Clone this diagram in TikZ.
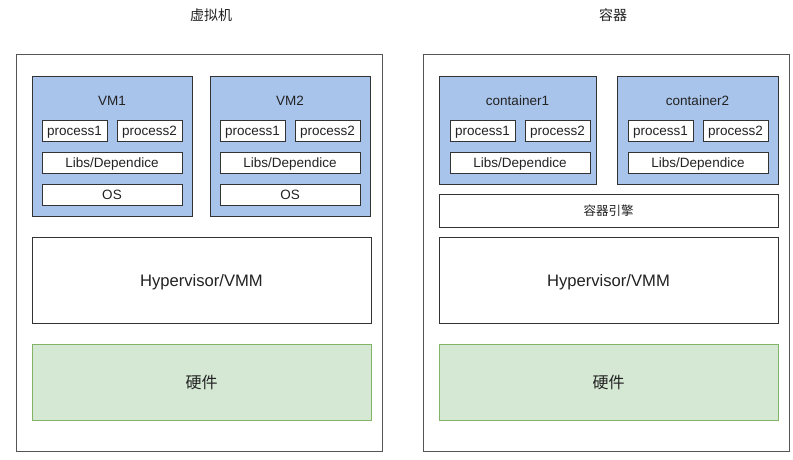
\documentclass[tikz,border=0pt]{standalone}
\usepackage{fontspec}
\setmainfont{Liberation Sans}
\newfontfamily\cjk{Noto Sans CJK SC}
\definecolor{vmblue}{HTML}{A9C4EB}
\definecolor{hwgreen}{HTML}{D5E8D4}
\definecolor{hwline}{HTML}{82B366}
\definecolor{outerline}{HTML}{555555}
\definecolor{boxline}{HTML}{333333}
\definecolor{txt}{HTML}{222222}
\begin{document}
\begin{tikzpicture}[x=1pt,y=-1pt,
  every node/.style={inner sep=0pt, outer sep=0pt, text=txt, text depth=0pt},
  outerbox/.style={draw=outerline, line width=1pt, fill=white, anchor=north west},
  bluebox/.style={draw=boxline, fill=vmblue, line width=1pt, anchor=north west},
  wbox/.style={draw=boxline, fill=white, line width=0.8pt, anchor=north west, font=\fontsize{13.5}{16}\selectfont},
  bigbox/.style={draw=boxline, fill=white, line width=0.9pt, anchor=north west, font=\fontsize{16.6}{20}\selectfont},
  hwbox/.style={draw=hwline, fill=hwgreen, line width=0.9pt, anchor=north west, font=\cjk\fontsize{16}{19}\selectfont},
  ttl/.style={font=\fontsize{13.5}{16}\selectfont},
  cjkttl/.style={font=\cjk\fontsize{14}{17}\selectfont}
]
\useasboundingbox (0,0) rectangle (793,460);
\fill[white] (0,0) rectangle (793,460);

% ---------- left: virtual machine ----------
\node[cjkttl] (tl) at (211,15) {虚拟机};
\node[outerbox, minimum width=366, minimum height=396] (ol) at (16,55) {};

\node[bluebox, minimum width=160, minimum height=139] (vm1) at (32,77) {};
\node[ttl] (vm1t) at (112,101) {VM1};
\node[wbox, minimum width=65, minimum height=21] (vm1p1) at (42,120) {process1};
\node[wbox, minimum width=65, minimum height=21] (vm1p2) at (117,120) {process2};
\node[wbox, minimum width=140, minimum height=21] (vm1l) at (42,152) {Libs/Dependice};
\node[wbox, minimum width=140, minimum height=21] (vm1o) at (42,184) {OS};

\node[bluebox, minimum width=160, minimum height=139] (vm2) at (210,77) {};
\node[ttl] (vm2t) at (290,101) {VM2};
\node[wbox, minimum width=65, minimum height=21] (vm2p1) at (220,120) {process1};
\node[wbox, minimum width=65, minimum height=21] (vm2p2) at (295,120) {process2};
\node[wbox, minimum width=140, minimum height=21] (vm2l) at (220,152) {Libs/Dependice};
\node[wbox, minimum width=140, minimum height=21] (vm2o) at (220,184) {OS};

\node[bigbox, minimum width=339, minimum height=86] (hvl) at (32,237) {Hypervisor/VMM};
\node[hwbox, minimum width=339, minimum height=76] (hwl) at (32,344) {硬件};

% ---------- right: container ----------
\node[cjkttl] (tr) at (613,15) {容器};
\node[outerbox, minimum width=366, minimum height=396] (or) at (423,55) {};

\node[bluebox, minimum width=157, minimum height=107] (c1) at (439,77) {};
\node[ttl] (c1t) at (517.5,101) {container1};
\node[wbox, minimum width=65, minimum height=21] (c1p1) at (450,120) {process1};
\node[wbox, minimum width=65, minimum height=21] (c1p2) at (525,120) {process2};
\node[wbox, minimum width=140, minimum height=21] (c1l) at (450,152) {Libs/Dependice};

\node[bluebox, minimum width=161, minimum height=107] (c2) at (617,77) {};
\node[ttl] (c2t) at (697.5,101) {container2};
\node[wbox, minimum width=65, minimum height=21] (c2p1) at (628,120) {process1};
\node[wbox, minimum width=65, minimum height=21] (c2p2) at (703,120) {process2};
\node[wbox, minimum width=140, minimum height=21] (c2l) at (628,152) {Libs/Dependice};

\node[wbox, minimum width=339, minimum height=33, font=\cjk\fontsize{12.5}{15}\selectfont] (eng) at (439,194) {容器引擎};
\node[bigbox, minimum width=339, minimum height=86] (hvr) at (439,237) {Hypervisor/VMM};
\node[hwbox, minimum width=339, minimum height=76] (hwr) at (439,344) {硬件};
\end{tikzpicture}
\end{document}
